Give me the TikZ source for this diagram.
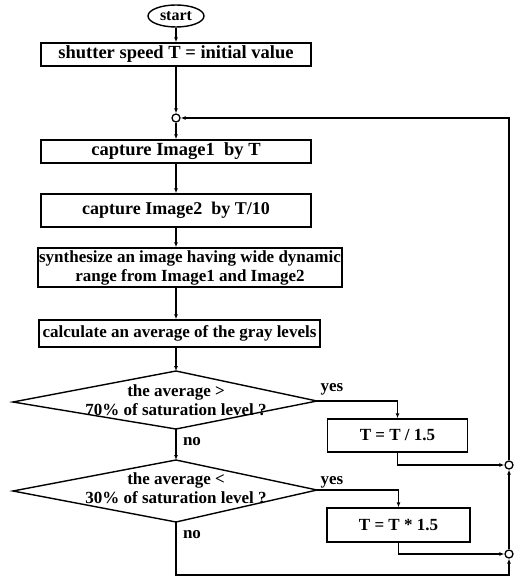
\documentclass[tikz,border=0pt]{standalone}
\usepackage{fontspec}
\setmainfont{Liberation Serif}
\usetikzlibrary{arrows.meta,shapes.geometric}
\begin{document}
\begin{tikzpicture}[x=1pt,y=-1pt,
  every node/.style={font=\fontsize{17}{19}\selectfont\bfseries},
  big/.style={font=\fontsize{18.5}{20}\selectfont\bfseries},
  box/.style={draw,line width=1.4pt,inner sep=0pt,align=center},
  link/.style={line width=1.3pt},
  arr/.style={link,-{Latex[length=5pt,width=4pt]}},
  junc/.style={draw,circle,line width=1.3pt,fill=white,inner sep=0pt,minimum size=8pt},
  lab/.style={inner sep=0pt}]
\useasboundingbox (0,0) rectangle (515,577);
% main column
\node[draw,ellipse,line width=1.4pt,minimum width=56pt,minimum height=22pt,inner sep=0pt,font=\fontsize{16}{18}\selectfont\bfseries] (start) at (176,16) {start};
\node[box,big,minimum width=270pt,minimum height=23pt] (b1) at (176,54.5) {shutter speed T = initial value};
\node[junc] (j1) at (176,118) {};
\node[box,big,minimum width=270pt,minimum height=23pt] (b2) at (176,151.5) {capture Image1\ \ by T};
\node[box,font=\fontsize{18}{20}\selectfont\bfseries,minimum width=270pt,minimum height=33pt] (b3) at (176,210.5) {capture Image2\ \ by T/10};
\node[box,minimum width=304pt,minimum height=39pt] (b4) at (190,267.5) {synthesize an image having wide dynamic\\range from Image1 and Image2};
\node[box,minimum width=281pt,minimum height=27pt] (b5) at (179.5,333.5) {calculate an average of the gray levels};
% decision 1
\coordinate (d1t) at (176,371);
\coordinate (d1l) at (13,402);
\coordinate (d1r) at (317,401);
\coordinate (d1b) at (176,429);
\draw[line width=1.4pt] (d1t) -- (d1r) -- (d1b) -- (d1l) -- cycle;
\node[align=center,inner sep=0pt] (d1txt) at (176,400) {the average >\\70\% of saturation level ?};
% decision 2
\coordinate (d2t) at (176,460);
\coordinate (d2l) at (13,491);
\coordinate (d2r) at (317,490);
\coordinate (d2b) at (176,522);
\draw[line width=1.4pt] (d2t) -- (d2r) -- (d2b) -- (d2l) -- cycle;
\node[align=center,inner sep=0pt] (d2txt) at (176,488) {the average <\\30\% of saturation level ?};
% right boxes
\node[box,minimum width=140pt,minimum height=33pt] (t1) at (397.5,435.5) {T = T / 1.5};
\node[box,minimum width=143pt,minimum height=34pt] (t2) at (398.5,525) {T = T * 1.5};
\node[junc] (c1) at (509,465) {};
\node[junc] (c2) at (509,554) {};
% labels
\node[lab] (y1) at (332,389) {yes};
\node[lab] (y2) at (332,482) {yes};
\node[lab] (n1) at (192,442) {no};
\node[lab] (n2) at (192,535) {no};
% connectors
\draw[arr] (start) -- (b1);
\draw[arr] (b1) -- (j1);
\draw[arr] (j1) -- (b2);
\draw[arr] (b2) -- (b3);
\draw[arr] (b3.south) -- (b3.south |- b4.north);
\draw[arr] (b4.south -| j1) -- (b5.north -| j1);
\draw[arr] (b5.south -| j1) -- (d1t);
\draw[arr] (d1b) -- (d2t);
\draw[arr] (d1r) -| (t1.north);
\draw[arr] (d2r) -| (t2.north);
\draw[arr] (t1.south) |- (c1.west);
\draw[arr] (t2.south) |- (c2.west);
\coordinate (k1) at (176,575);
\coordinate (k2) at (509,575);
\coordinate (k3) at (509,118);
\draw[arr] (d2b) -- (k1) -- (k2) -- (c2.south);
\draw[arr] (c2.north) -- (c1.south);
\draw[arr] (c1.north) -- (k3) -- (j1.east);
\end{tikzpicture}
\end{document}
